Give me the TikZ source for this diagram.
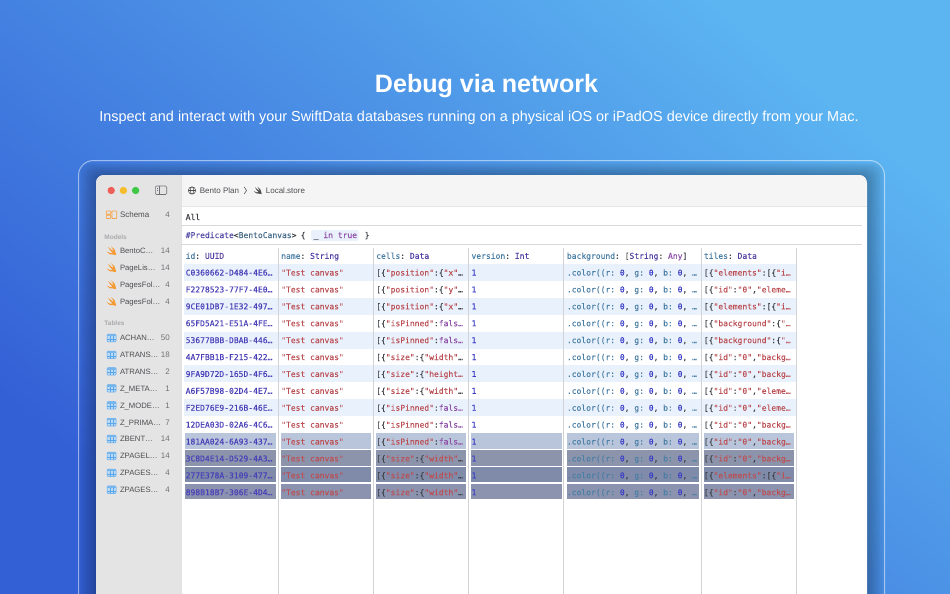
\documentclass[tikz,border=0pt]{standalone}
\usepackage{fontspec}
\setmainfont{Liberation Sans}
\newfontfamily\cellmono[FakeBold=0.06]{DejaVu Sans Mono}
\definecolor{bgtop}{HTML}{5CB4F1}
\definecolor{bgbot}{HTML}{3460D6}
\definecolor{sidebar}{HTML}{E5E4E5}
\definecolor{titlebg}{HTML}{F6F5F6}
\definecolor{stripe}{HTML}{E8F1FC}
\definecolor{seprule}{HTML}{D2D3D7}
\definecolor{uuidc}{HTML}{4A40B8}
\definecolor{strred}{HTML}{BC5055}
\definecolor{slatec}{HTML}{4A7FA6}
\definecolor{typec}{HTML}{5540A6}
\definecolor{numc}{HTML}{3A3CC6}
\definecolor{kwc}{HTML}{9050A8}
\definecolor{inkc}{HTML}{3D4045}
\definecolor{side}{HTML}{4E4E52}
\definecolor{sidehead}{HTML}{A9A9AC}
\definecolor{swiftc}{HTML}{F59A33}
\definecolor{tablec}{HTML}{3C96E6}
\definecolor{tablef}{HTML}{BBDAF5}
\definecolor{selA}{HTML}{B9C5DA}
\definecolor{selB}{HTML}{8C94AC}
\definecolor{selC}{HTML}{7F8BA9}
\definecolor{selD}{HTML}{8B93AE}
\definecolor{lightR}{HTML}{EE5F57}
\definecolor{lightY}{HTML}{F5BD2E}
\definecolor{lightG}{HTML}{3EC846}
\newcommand\qq[1]{\textcolor{strred}{"#1"}}
\newcommand\lbk{[\{}
\newcommand\cpos[1]{\lbk\qq{position}:\{\qq{#1}…}
\newcommand\cpin{\lbk\qq{isPinned}:\textcolor{kwc}{fals…}}
\newcommand\csw{\lbk\qq{size}:\{\qq{width}…}
\newcommand\csh{\lbk\qq{size}:\{\textcolor{strred}{"height…}}
\newcommand\tel{\lbk\qq{elements}:[\{\textcolor{strred}{"i…}}
\newcommand\tbg{\lbk\qq{background}:\{\textcolor{strred}{"…}}
\newcommand\tidb{\lbk\qq{id}:\qq{0},\textcolor{strred}{"backg…}}
\newcommand\tide{\lbk\qq{id}:\qq{0},\textcolor{strred}{"eleme…}}
\newcommand\ccolor{\textcolor{slatec}{.color((r:} \textcolor{numc}{0}, \textcolor{slatec}{g:} \textcolor{numc}{0}, \textcolor{slatec}{b:} \textcolor{numc}{0}, \textcolor{slatec}{…}}
\newcommand\hdr[2]{\textcolor{slatec}{#1}: \textcolor{typec}{#2}}
\tikzset{
  x=1pt,y=-1pt,
  mono/.style={font=\cellmono\fontsize{8}{9}\selectfont\frenchspacing,text=inkc,anchor=base west,inner sep=0pt},
  uuidtxt/.style={mono,text=uuidc},
  sidetxt/.style={font=\fontsize{8}{9}\selectfont,text=side,anchor=base west,inner sep=0pt},
  tabletxt/.style={font=\fontsize{7.7}{9}\selectfont,text=side,anchor=base west,inner sep=0pt},
  sidecount/.style={font=\fontsize{8}{9}\selectfont,text=side!80,anchor=base east,inner sep=0pt},
  sidehd/.style={font=\bfseries\fontsize{6.5}{8}\selectfont,text=sidehead,anchor=base west,inner sep=0pt},
  pathtxt/.style={font=\fontsize{8}{9}\selectfont,text=side,anchor=base west,inner sep=0pt},
  swiftico/.pic={\fill[pic actions] (-3.5,-4) .. controls (-1,-2) and (1,0) .. (2,0.5) .. controls (1.5,-1.5) and (0.5,-3) .. (-0.5,-4.5) .. controls (2,-3) and (4,-0.5) .. (3.8,1.5) .. controls (4.5,2.5) and (4.5,3.5) .. (4.3,4) .. controls (3.5,3) and (2.5,3) .. (1.5,3.5) .. controls (-1,4.5) and (-3.5,2.5) .. (-5,0.5) .. controls (-2.5,2) and (-0.5,2.5) .. (0.8,1.7) .. controls (-1,0.5) and (-2.5,-2) .. cycle;},
  tableico/.pic={\draw[tablec!85,fill=tablef,line width=.5pt,rounded corners=1pt] (-4.5,-3.8) rectangle (4.5,3.8);
    \fill[tablec!70] (-4.5,-3.8) rectangle (4.5,-1.8);
    \draw[tablec!85,line width=.45pt] (-4.5,1.1) -- (4.5,1.1) (-1.5,-1.8) -- (-1.5,3.8) (1.5,-1.8) -- (1.5,3.8);},
}
\begin{document}
\begin{tikzpicture}
\useasboundingbox (0,0) rectangle (950,594);
\clip (0,0) rectangle (950,594);
\shade[shading=axis,top color=bgtop,bottom color=bgbot,shading angle=-40] (-1,-1) rectangle (951,595);
% outer frame
\draw[white,opacity=.5,line width=1pt,rounded corners=15pt] (78.5,640) -- (78.5,160.5) -- (884.5,160.5) -- (884.5,640);
% window shadow
\foreach \g in {17,15,...,1}{\fill[black,opacity=.032,rounded corners=10pt] (96-\g,175-\g*.75) rectangle (867+\g,640);}
% window
\fill[white,rounded corners=8pt] (96,175) rectangle (867,640);
\begin{scope}
\clip[rounded corners=8pt] (96,175) rectangle (867,640);
\fill[sidebar] (96,175) rectangle (181,640);
\fill[titlebg] (181,175) rectangle (867,206);
\draw[black!10,line width=.5pt] (181,206) -- (867,206);
\draw[black!12,line width=.5pt] (181,175) -- (181,640);
\end{scope}
% traffic lights
\fill[lightR] (111.2,190.5) circle (3.7);
\fill[lightY] (123.4,190.5) circle (3.7);
\fill[lightG] (135.6,190.5) circle (3.7);
\draw[side!80,line width=.6pt,rounded corners=1.2pt] (155.3,186) rectangle (166.7,194.5);
\draw[side!80,line width=.6pt] (159.2,186) -- (159.2,194.5);
\draw[side!80,line width=.5pt] (156.8,188.2) -- (158,188.2) (156.8,190) -- (158,190);
% title path
\draw[side,line width=.55pt] (192,190.5) circle (3.7) (192,190.5) ellipse (1.6 and 3.7) (188.3,190.5) -- (195.7,190.5);
\node[pathtxt] (crumb1) at (199.7,193.3) {Bento Plan};
\draw[side,line width=.55pt] (244.2,187) -- (246.5,190.5) -- (244.2,194);
\pic[fill=side,scale=.85] at (258,190.7) {swiftico};
\node[pathtxt] (crumb2) at (265.7,193.3) {Local.store};
% schema
\draw[swiftc!90,line width=.7pt,rounded corners=.6pt] (106.3,211) rectangle (110.8,214.3) (106.3,215.3) rectangle (110.8,218.5) (112,211) rectangle (116.8,218.5);
\node[sidetxt] (schema) at (119.8,217.9) {Schema};
\node[sidecount] (schemac) at (170,217.9) {4};
\node[sidehd] (models) at (104.2,239) {Models};
\foreach \t/\n/\yy [count=\i] in {BentoC…/14/251,PageLis…/14/268,PagesFol…/4/285,PagesFol…/4/301.7}{
  \pic[fill=swiftc,scale=1.02] at (111.7,\yy) {swiftico};
  \node[tabletxt] (m\i) at (119.8,\yy+2.8) {\t};
  \node[sidecount] (mc\i) at (170,\yy+2.8) {\n};
}
\node[sidehd] (tables) at (104.2,325.5) {Tables};
\foreach \t/\n/\yy [count=\i] in {ACHAN…/50/338,ATRANS…/18/354.8,ATRANS…/2/371.4,Z\_META…/1/388.3,Z\_MODE…/1/405.3,Z\_PRIMA…/7/422.2,ZBENT…/14/439,ZPAGEL…/14/456,ZPAGES…/4/472.8,ZPAGES…/4/489.7}{
  \pic at (111.5,\yy) {tableico};
  \node[tabletxt] (t\i) at (119.8,\yy+2.8) {\t};
  \node[sidecount] (tc\i) at (170,\yy+2.8) {\n};
}
% filter lines
\node[mono] (allrow) at (185.5,220) {All};
\draw[black!15,line width=.6pt] (181,225.5) -- (862,225.5);
\node[mono] (pred1) at (185.5,238) {\textcolor{typec!80!slatec}{\#Predicate}<\textcolor{slatec!70!inkc}{BentoCanvas}>};
\node[mono] (pred2) at (300.5,238) {\{};
\fill[stripe,rounded corners=1.5pt] (311,230) rectangle (358.5,240.8);
\node[mono] (pred3) at (313.5,238) {\_ \textcolor{kwc}{in true}};
\node[mono] (pred4) at (364.5,238) {\}};
\draw[black!15,line width=.6pt] (181,244.5) -- (862,244.5);
% stripes
\foreach \r in {1,3,5,7,9}{
  \fill[stripe] (183.5,264+16.9*\r-16.9) rectangle (796,264+16.9*\r);
}
% selected cells
\foreach \r/\c in {11/selA,12/selB,13/selC,14/selD}{
  \foreach \xa/\xb in {185/276,281/371,376/466,471/562,567/699,703.7/794}{
    \fill[\c] (\xa,264+16.9*\r-16.9) rectangle (\xb,264+16.9*\r-1.3);
  }
}
% separators
\foreach \x in {278,373,468,563,701.3,796.3}{
  \draw[seprule,line width=.7pt] (\x,248) -- (\x,600);
}
% header
\node[mono] (h1) at (185.5,258.8) {\hdr{id}{UUID}};
\node[mono] (h2) at (281,258.8) {\hdr{name}{String}};
\node[mono] (h3) at (376,258.8) {\hdr{cells}{Data}};
\node[mono] (h4) at (471.3,258.8) {\hdr{version}{Int}};
\node[mono] (h5) at (566.7,258.8) {\textcolor{slatec}{background}: [\textcolor{typec}{String}: \textcolor{kwc}{Any}]};
\node[mono] (h6) at (703.7,258.8) {\hdr{tiles}{Data}};
% rows
\foreach \id/\cel/\til [count=\r] in {
 C0360662-D484-4E6…/\cpos{x}/\tel,
 F2278523-77F7-4E0…/\cpos{y}/\tide,
 9CE01DB7-1E32-497…/\cpos{x}/\tel,
 65FD5A21-E51A-4FE…/\cpin/\tbg,
 53677BBB-DBAB-446…/\cpin/\tbg,
 4A7FBB1B-F215-422…/\csw/\tidb,
 9FA9D72D-165D-4F6…/\csh/\tidb,
 A6F57B98-02D4-4E7…/\csw/\tide,
 F2ED76E9-216B-46E…/\cpin/\tide,
 12DEA03D-02A6-4C6…/\cpin/\tidb,
 181AA024-6A93-437…/\cpin/\tidb,
 3C8D4E14-D529-4A3…/\csw/\tidb,
 277E378A-3109-477…/\csw/\tel,
 898B18B7-306E-4D4…/\csw/\tidb}{
  \pgfmathsetmacro\yb{272.6+16.9*(\r-1)+2.9}
  \node[uuidtxt] (id\r) at (185.5,\yb) {\id};
  \node[mono,text=strred] (nm\r) at (281,\yb) {"Test canvas"};
  \node[mono] (ce\r) at (376,\yb) {\cel};
  \node[mono,text=numc] (ve\r) at (471.3,\yb) {1};
  \node[mono] (bg\r) at (566.7,\yb) {\ccolor};
  \node[mono] (ti\r) at (703.7,\yb) {\til};
}
% headline
\node[font=\bfseries\fontsize{25.1}{30}\selectfont,text=white,inner sep=0pt,anchor=base] (head) at (486.5,92.5) {Debug via network};
\node[font=\fontsize{14.44}{18}\selectfont,text=white,inner sep=0pt,anchor=base] (sub) at (479,121) {Inspect and interact with your SwiftData databases running on a physical iOS or iPadOS device directly from your Mac.};
\end{tikzpicture}
\end{document}
